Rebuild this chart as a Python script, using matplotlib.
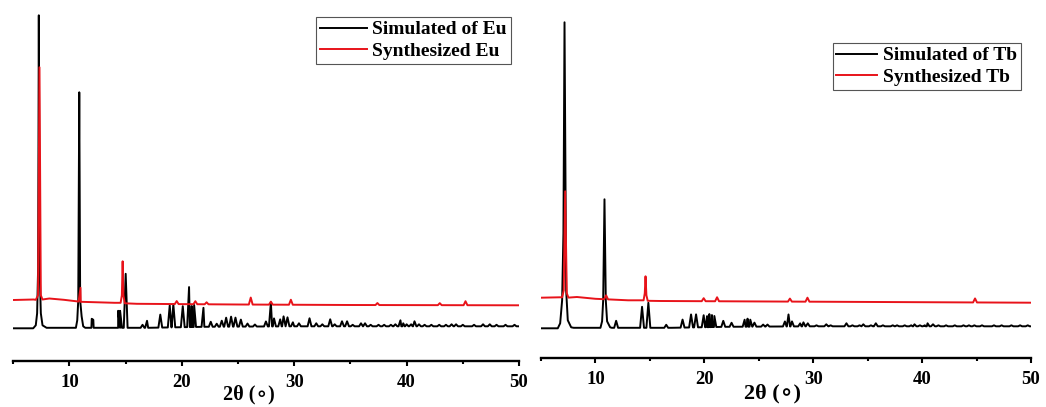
import numpy as np
import matplotlib
matplotlib.use("Agg")
import matplotlib.pyplot as plt

plt.rcParams['font.family'] = ['Liberation Serif', 'DejaVu Serif']
plt.rcParams['font.weight'] = 'bold'

# ---- Eu: simulated pattern ----
eu_sim_base_x = [5, 6.5, 8.2, 10.4, 11.4, 17, 22, 30, 50]
eu_sim_base_y = [0, 0, 0.5, 0.5, 0.5, 0.5, 1.5, 2, 2]
# strong reflections, outlined point by point (absolute intensity)
eu_sim_flank_x = [6.77, 7.0, 7.12, 7.21, 7.27, 7.34, 7.45, 7.6, 7.96,
                  10.57, 10.69, 10.78, 10.87, 10.95, 11.08, 11.22]
eu_sim_flank_y = [0, 3, 15, 61, 313, 60, 15, 3, 0.5,
                  0.5, 8, 28, 236, 28, 12, 2]
# weaker reflections (height above baseline)
eu_sim_pk_x = [11.98, 12.12, 14.33, 14.5, 15.0, 16.5, 16.9, 18.08, 18.92, 19.24,
               20.08, 20.64, 20.88, 21.09, 21.92, 22.57, 23.1, 23.55, 23.94, 24.38,
               24.77, 25.25, 25.84, 26.5, 27.48, 27.92, 28.2, 28.75, 29.05, 29.4,
               29.88, 30.42, 31.36, 31.96, 32.5, 33.2, 33.6, 34.25, 34.7, 35.2,
               35.94, 36.3, 36.8, 37.5, 38.0, 38.6, 39.0, 39.45, 39.7, 40.0,
               40.4, 40.7, 41.1, 41.6, 42.2, 42.9, 43.5, 44.0, 44.4, 45.0,
               46.0, 46.8, 47.4, 48.0, 48.8, 49.6]
eu_sim_pk_y = [9, 8, 17, 17, 54, 3, 7, 13, 22, 23,
               21, 40, 21, 22, 19, 5, 3, 6, 9, 10,
               9, 7, 3, 2, 5, 24, 8, 7, 10, 9,
               4, 3, 8, 3, 2, 7, 2, 5, 5, 1.5,
               3, 3, 1.5, 1.5, 1.5, 1.5, 2, 6, 3, 2,
               2, 5, 2, 1.5, 1.5, 1.5, 1.5, 2, 2, 1.5,
               1.5, 2, 2, 1.5, 1.5, 1.5]

# ---- Eu: synthesized sample ----
eu_exp_base_x = [5, 6.8, 8.2, 9.5, 11, 14, 16, 25, 35, 50]
eu_exp_base_y = [28.3, 28.8, 29.8, 28.5, 26.5, 25.5, 24.5, 23.8, 23.3, 23.0]
eu_exp_flank_x = [7.0, 7.2, 7.33, 7.45, 7.6,
                  14.55, 14.66, 14.73, 14.8, 14.92]
eu_exp_flank_y = [28.5, 33, 261, 33, 28.8,
                  25.5, 33, 67, 33, 25]
eu_exp_pk_x = [10.98, 19.54, 21.2, 22.2, 26.13, 27.92, 29.7, 37.4, 42.95, 45.24]
eu_exp_pk_y = [14, 3, 3, 2, 7, 3, 5, 2, 2, 4]

# ---- Tb: simulated pattern ----
tb_sim_base_x = [5, 6.4, 8.0, 10.3, 11.5, 17, 22, 30, 50]
tb_sim_base_y = [0, 0, 0.5, 0.5, 0.5, 0.5, 1.5, 2, 2]
tb_sim_flank_x = [6.54, 6.76, 6.94, 7.06, 7.16, 7.31, 7.46, 7.77,
                  10.46, 10.61, 10.71, 10.83, 10.95, 11.07, 11.35]
tb_sim_flank_y = [0, 5, 28, 95, 306, 38, 8, 1,
                  0.5, 7, 28, 129, 28, 7, 1]
tb_sim_pk_x = [11.9, 14.28, 14.86, 16.5, 18.0, 18.78, 19.24, 19.94, 20.25, 20.46,
               20.7, 20.92, 21.74, 22.5, 23.7, 23.97, 24.22, 24.6, 25.4, 25.8,
               27.4, 27.73, 28.05, 28.8, 29.1, 29.5, 30.3, 31.2, 31.6, 33.05,
               33.6, 34.25, 34.6, 35.3, 35.75, 36.4, 37.3, 37.7, 38.4, 39.0,
               39.3, 39.8, 40.25, 40.5, 41.0, 41.5, 42.2, 43.0, 43.8, 44.3,
               44.8, 45.5, 46.6, 47.3, 48.2, 49.0, 49.7]
tb_sim_pk_y = [7, 21, 25, 3, 8, 13, 13, 12, 11, 13,
               12, 11, 6, 4, 7, 8, 7, 4, 2, 2,
               5, 12, 5, 3, 4, 3, 1, 2, 1, 3,
               1, 1, 2, 1, 3, 1, 1, 1, 1, 1,
               2, 1, 1, 3, 2, 1, 1, 1, 1, 1,
               1, 1, 1, 1, 1, 1, 1]

# ---- Tb: synthesized sample ----
tb_exp_base_x = [5, 6.7, 8.3, 10, 13, 16, 30, 50]
tb_exp_base_y = [30.6, 31, 31.3, 29.5, 28, 27.3, 26.6, 25.6]
tb_exp_flank_x = [6.94, 7.09, 7.22, 7.37, 7.52,
                  14.42, 14.53, 14.6, 14.68, 14.8]
tb_exp_flank_y = [31, 38, 137, 35, 30.7,
                  28, 35, 52, 33, 27.5]
tb_exp_pk_x = [10.98, 19.94, 21.17, 27.86, 29.47, 44.86]
tb_exp_pk_y = [4, 3, 4, 3, 4, 4]


def build_trace(base_x, base_y, flank_x, flank_y, pk_x, pk_y, w=0.17):
    # baseline knots + hand-traced strong peaks + narrow spikes for weak peaks
    base_x = np.asarray(base_x, float)
    base_y = np.asarray(base_y, float)
    pk_x = np.asarray(pk_x, float)
    feet = np.concatenate([pk_x - w, pk_x + w])
    xs = np.concatenate([base_x, flank_x, feet, pk_x])
    ys = np.concatenate([base_y, flank_y, np.interp(feet, base_x, base_y),
                         np.interp(pk_x, base_x, base_y) + np.asarray(pk_y, float)])
    order = np.argsort(xs, kind='stable')
    return xs[order], ys[order]


W, H = 1046, 407
fig = plt.figure(figsize=(W / 100, H / 100), dpi=100)


def px_axes(x0, x1, y_axis, y_top):
    # axes placed by pixel edges; y_axis = bottom spine row
    return fig.add_axes([x0 / W, (H - y_axis) / H, (x1 - x0) / W, (y_axis - y_top) / H])


def style(ax, y_axis, y_top):
    base_row = 328.3
    lo = -(y_axis - base_row)
    ax.set_ylim(lo, lo + (y_axis - y_top))
    ax.set_xlim(5, 50)
    for s in ['top', 'left', 'right']:
        ax.spines[s].set_visible(False)
    ax.spines['bottom'].set_linewidth(1.7)
    ax.set_yticks([])
    ax.set_xticks([10, 20, 30, 40, 50])
    ax.set_xticks([5, 15, 25, 35, 45], minor=True)
    ax.tick_params(axis='x', which='major', direction='out', length=3.5, width=1.5,
                   pad=6, labelsize=13.5)
    ax.tick_params(axis='x', which='minor', direction='out', length=2, width=1.5)
    for lab in ax.get_xticklabels():
        lab.set_fontweight('bold')
    ax.patch.set_alpha(0)


red = '#e8131a'
lw = 1.4

# left panel: Eu
ax1 = px_axes(13.3, 519, 360.7, 5)
style(ax1, 360.7, 5)
x, y = build_trace(eu_sim_base_x, eu_sim_base_y, eu_sim_flank_x, eu_sim_flank_y,
                   eu_sim_pk_x, eu_sim_pk_y)
ax1.plot(x, y, color='black', lw=lw, label='Simulated of Eu')
x, y = build_trace(eu_exp_base_x, eu_exp_base_y, eu_exp_flank_x, eu_exp_flank_y,
                   eu_exp_pk_x, eu_exp_pk_y)
ax1.plot(x, y, color=red, lw=lw, label='Synthesized Eu')
leg1 = ax1.legend(loc='upper right', bbox_to_anchor=(511 / W, 1 - 17 / H),
                  bbox_transform=fig.transFigure, frameon=True, fancybox=False,
                  edgecolor='#555555', framealpha=1, borderpad=0.2,
                  handlelength=2.4, handletextpad=0.3, labelspacing=0.2,
                  borderaxespad=0, prop={'size': 14, 'weight': 'bold'})
leg1.get_frame().set_linewidth(0.8)

# right panel: Tb
ax2 = px_axes(541, 1031, 358, 5)
style(ax2, 358, 5)
x, y = build_trace(tb_sim_base_x, tb_sim_base_y, tb_sim_flank_x, tb_sim_flank_y,
                   tb_sim_pk_x, tb_sim_pk_y, w=0.18)
ax2.plot(x, y, color='black', lw=lw, label='Simulated of Tb')
x, y = build_trace(tb_exp_base_x, tb_exp_base_y, tb_exp_flank_x, tb_exp_flank_y,
                   tb_exp_pk_x, tb_exp_pk_y, w=0.18)
ax2.plot(x, y, color=red, lw=lw, label='Synthesized Tb')
leg2 = ax2.legend(loc='upper right', bbox_to_anchor=(1021 / W, 1 - 43 / H),
                  bbox_transform=fig.transFigure, frameon=True, fancybox=False,
                  edgecolor='#555555', framealpha=1, borderpad=0.2,
                  handlelength=2.1, handletextpad=0.3, labelspacing=0.2,
                  borderaxespad=0, prop={'size': 14, 'weight': 'bold'})
leg2.get_frame().set_linewidth(0.8)

# x-axis titles
fig.text(249 / W, 1 - 394 / H, '2θ (∘)', ha='center', va='center', fontsize=14.5,
         fontweight='bold', family=['Liberation Serif', 'DejaVu Sans'])
fig.text(772 / W, 1 - 393 / H, '2θ (∘)', ha='center', va='center', fontsize=16,
         fontweight='bold', family=['Liberation Serif', 'DejaVu Sans'])

fig.savefig('out.png', dpi=100)
